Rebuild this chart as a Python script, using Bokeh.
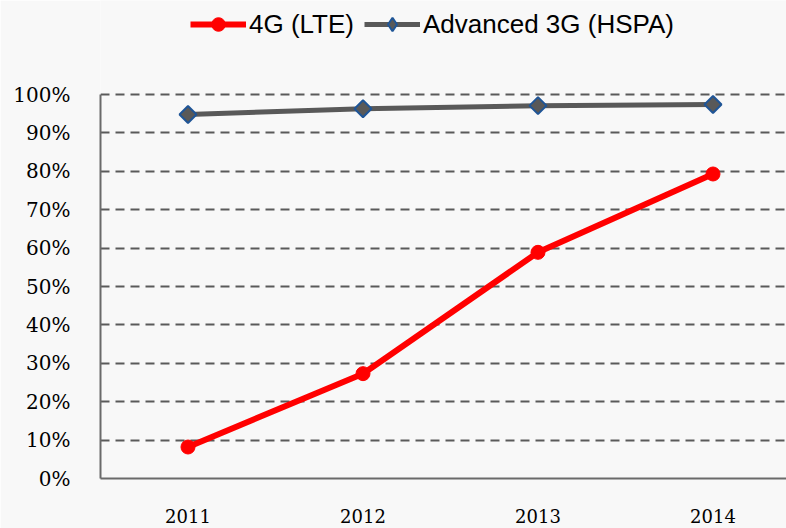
import math
from bokeh.plotting import figure
from bokeh.models import (FixedTicker, PrintfTickFormatter, Legend, LegendItem, Range1d, ColumnDataSource)
from bokeh.embed import file_html
from bokeh.resources import INLINE

years = ["2011", "2012", "2013", "2014"]
lte = [8.2, 27.3, 58.9, 79.3]
hspa = [94.8, 96.3, 97.1, 97.4]
y_ticks = [0, 10, 20, 30, 40, 50, 60, 70, 80, 90, 100]

xs = list(range(len(years)))
src = ColumnDataSource(dict(x=xs, lte=lte, hspa=hspa))

bg = "#f8f8f8"
red = "#ff0000"
gray = "#595959"
blue = "#1f5597"

p = figure(width=786, height=528, output_backend="svg", toolbar_location=None,
           x_range=Range1d(-0.5, 3.42), y_range=Range1d(0, 124.48),
           min_border_left=100, min_border_right=0, min_border_top=0, min_border_bottom=50,
           background_fill_color=bg, border_fill_color=bg)
p.outline_line_color = None

l1 = p.line("x", "lte", source=src, line_color=red, line_width=6)
s1 = p.scatter("x", "lte", source=src, marker="circle", size=14, fill_color=red, line_color=red)
l2 = p.line("x", "hspa", source=src, line_color=gray, line_width=5)
s2 = p.scatter("x", "hspa", source=src, marker="square", size=12, angle=math.pi / 4,
               fill_color=gray, line_color=blue, line_width=2)
# legend-only diamond marker: one point with a missing value, so nothing is drawn in the plot
s2_leg = p.scatter(x=[xs[0]], y=[float("nan")], marker="diamond",
                   fill_color=gray, line_color=blue, line_width=2)

p.xgrid.grid_line_color = None
p.ygrid.grid_line_color = "#5a5a5a"
p.ygrid.grid_line_width = 2
p.ygrid.grid_line_dash = "9 6"
p.ygrid.ticker = FixedTicker(ticks=y_ticks)

p.yaxis.ticker = FixedTicker(ticks=y_ticks)
p.yaxis.bounds = (0, 100)
p.yaxis.formatter = PrintfTickFormatter(format="%d%%")
p.xaxis.ticker = FixedTicker(ticks=xs)
p.xaxis.major_label_overrides = {i: y for i, y in enumerate(years)}

for ax in (p.xaxis[0], p.yaxis[0]):
    ax.axis_line_color = "#6a6a6a"
    ax.axis_line_width = 2
    ax.major_tick_line_color = None
    ax.minor_tick_line_color = None
    ax.major_label_text_font = "DejaVu Serif"
    ax.major_label_text_color = "#000000"
p.yaxis.major_label_text_font_size = "20px"
p.yaxis.major_label_standoff = 24
p.xaxis.major_label_text_font_size = "18px"
p.xaxis.major_label_standoff = 24

legend = Legend(items=[LegendItem(label="4G (LTE)", renderers=[l1, s1]),
                       LegendItem(label="Advanced 3G (HSPA)", renderers=[l2, s2_leg])],
                orientation="horizontal", location=(90, 437),
                label_text_font="Liberation Sans", label_text_font_size="26px",
                label_text_color="#000000",
                glyph_width=56, glyph_height=34, label_standoff=3, spacing=10,
                border_line_color=None, background_fill_alpha=0, padding=0, margin=0)
p.add_layout(legend, "center")

html = file_html(p, INLINE)
open("out.html", "w").write(html)
